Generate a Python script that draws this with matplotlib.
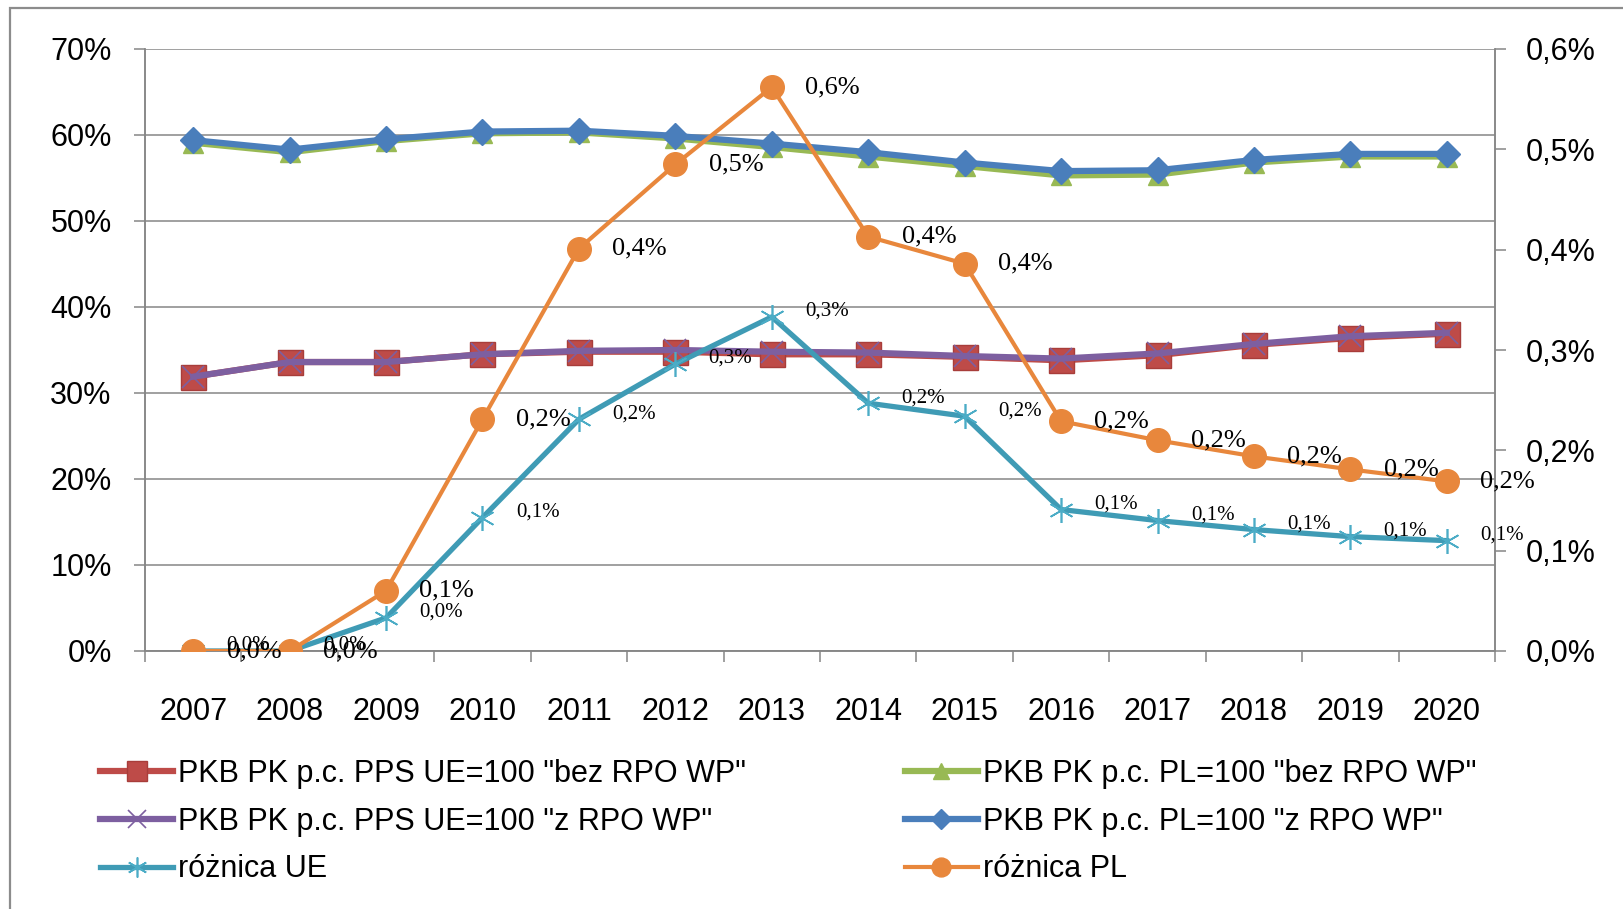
import matplotlib.pyplot as plt
from matplotlib.patches import Rectangle
from matplotlib.ticker import FuncFormatter, FixedLocator

# data
years = ['2007', '2008', '2009', '2010', '2011', '2012', '2013',
         '2014', '2015', '2016', '2017', '2018', '2019', '2020']
ue_bez = [31.9, 33.6, 33.6, 34.5, 34.8, 34.8, 34.5, 34.5, 34.2, 33.8, 34.4, 35.6, 36.4, 36.9]
ue_z = [31.9, 33.6, 33.6, 34.5, 34.9, 35.0, 34.8, 34.7, 34.3, 34.0, 34.6, 35.7, 36.6, 37.0]
pl_bez = [59.1, 58.0, 59.3, 60.2, 60.3, 59.6, 58.6, 57.5, 56.4, 55.3, 55.4, 56.8, 57.5, 57.5]
pl_z = [59.4, 58.3, 59.5, 60.4, 60.5, 59.9, 59.0, 58.0, 56.8, 55.8, 55.9, 57.1, 57.8, 57.8]
roznica_ue = [0.0, 0.0, 0.033, 0.133, 0.231, 0.286, 0.333, 0.247, 0.234, 0.141, 0.130, 0.121, 0.114, 0.110]
roznica_pl = [0.0, 0.0, 0.060, 0.231, 0.401, 0.485, 0.562, 0.413, 0.386, 0.229, 0.210, 0.194, 0.181, 0.169]

labels = ['PKB PK p.c. PPS UE=100 "bez RPO WP"',
          'PKB PK p.c. PL=100 "bez RPO WP"',
          'PKB PK p.c. PPS UE=100 "z RPO WP"',
          'PKB PK p.c. PL=100 "z RPO WP"',
          'różnica UE',
          'różnica PL']

plt.rcParams['font.family'] = ['Liberation Sans', 'DejaVu Sans']
grid_col = '#868686'

fig = plt.figure(figsize=(16.23, 9.09), dpi=100)
ax = fig.add_axes([145 / 1623, 1 - 651 / 909, 1350 / 1623, 602 / 909])
ax2 = ax.twinx()

x = list(range(len(years)))

# primary axis series
h_red, = ax.plot(x, ue_bez, color='#be4b48', lw=4.5, marker='s', ms=18,
                 mfc='#be4b48', mec='#a83d3a', label=labels[0], zorder=3)
h_green, = ax.plot(x, pl_bez, color='#98b954', lw=4.5, marker='^', ms=15,
                   mfc='#98b954', mec='#98b954', label=labels[1], zorder=3)
h_purple, = ax.plot(x, ue_z, color='#7d5fa0', lw=4.5, marker='x', ms=16,
                    mew=1.2, label=labels[2], zorder=4)
h_blue, = ax.plot(x, pl_z, color='#4a7ebb', lw=4.5, marker='D', ms=13,
                  mfc='#4a7ebb', mec='#4a7ebb', label=labels[3], zorder=4)

# secondary axis series
h_teal, = ax2.plot(x, roznica_ue, color='#3f9bb5', lw=3.8, marker=(6, 2, 0), ms=18,
                   mec='#4bacc6', mew=1.2, label=labels[4], zorder=3)
h_orange, = ax2.plot(x, roznica_pl, color='#e8873c', lw=3.0, marker='o', ms=17,
                     mfc='#e8873c', mec='#e8873c', label=labels[5], zorder=4)

# data labels
for xi, v in zip(x, roznica_ue):
    ax2.annotate(f'{v:.1f}%'.replace('.', ','), (xi, v), xytext=(24, 4),
                 textcoords='offset points', va='center', ha='left',
                 fontsize=15, family='Liberation Serif', zorder=6)
for xi, v in zip(x, roznica_pl):
    ax2.annotate(f'{v:.1f}%'.replace('.', ','), (xi, v), xytext=(24, 0),
                 textcoords='offset points', va='center', ha='left',
                 fontsize=19, family='Liberation Serif', zorder=6)

# axes styling
ax.set_xlim(-0.5, len(years) - 0.5)
ax.set_ylim(0, 70)
ax2.set_ylim(0, 0.6)
ax.set_yticks(range(0, 71, 10))
ax2.set_yticks([0, 0.1, 0.2, 0.3, 0.4, 0.5, 0.6])
ax.yaxis.set_major_formatter(FuncFormatter(lambda v, p: f'{v:.0f}%'))
ax2.yaxis.set_major_formatter(FuncFormatter(lambda v, p: f'{v:.1f}%'.replace('.', ',')))
ax.set_xticks(x)
ax.set_xticklabels(years)
ax.xaxis.set_minor_locator(FixedLocator([i - 0.5 for i in range(len(years) + 1)]))
ax.tick_params(axis='x', which='major', length=0, pad=33, labelsize=22)
ax.tick_params(axis='x', which='minor', length=8, width=1.1, color=grid_col, direction='out')
ax.tick_params(axis='y', length=8, width=1.1, color=grid_col, pad=16, labelsize=22)
ax2.tick_params(axis='y', length=8, width=1.1, color=grid_col, pad=14, labelsize=22)

ax.grid(axis='y', color=grid_col, lw=1.1)
ax.set_axisbelow(True)
for a in (ax, ax2):
    a.spines['top'].set_visible(False)
    for s in ('left', 'right', 'bottom'):
        a.spines[s].set_color(grid_col)
        a.spines[s].set_linewidth(1.1)

# legend below the plot
handles = [h_red, h_purple, h_teal, h_green, h_blue, h_orange]
fig.legend(handles=handles, labels=[h.get_label() for h in handles],
           loc='upper left', bbox_to_anchor=(100 / 1623, 1 - 759 / 909),
           ncol=2, frameon=False, fontsize=22, handlelength=2.4,
           handletextpad=0.15, labelspacing=0.58, columnspacing=5.2,
           markerscale=0.8, borderpad=0, borderaxespad=0)

# outer chart border
fig.add_artist(Rectangle((10 / 1623, -0.1), 1.2, 1.1 - 8 / 909,
                         transform=fig.transFigure, fill=False,
                         edgecolor='#8c8c8c', lw=1.6, clip_on=False))

fig.savefig('out.png', dpi=100)
